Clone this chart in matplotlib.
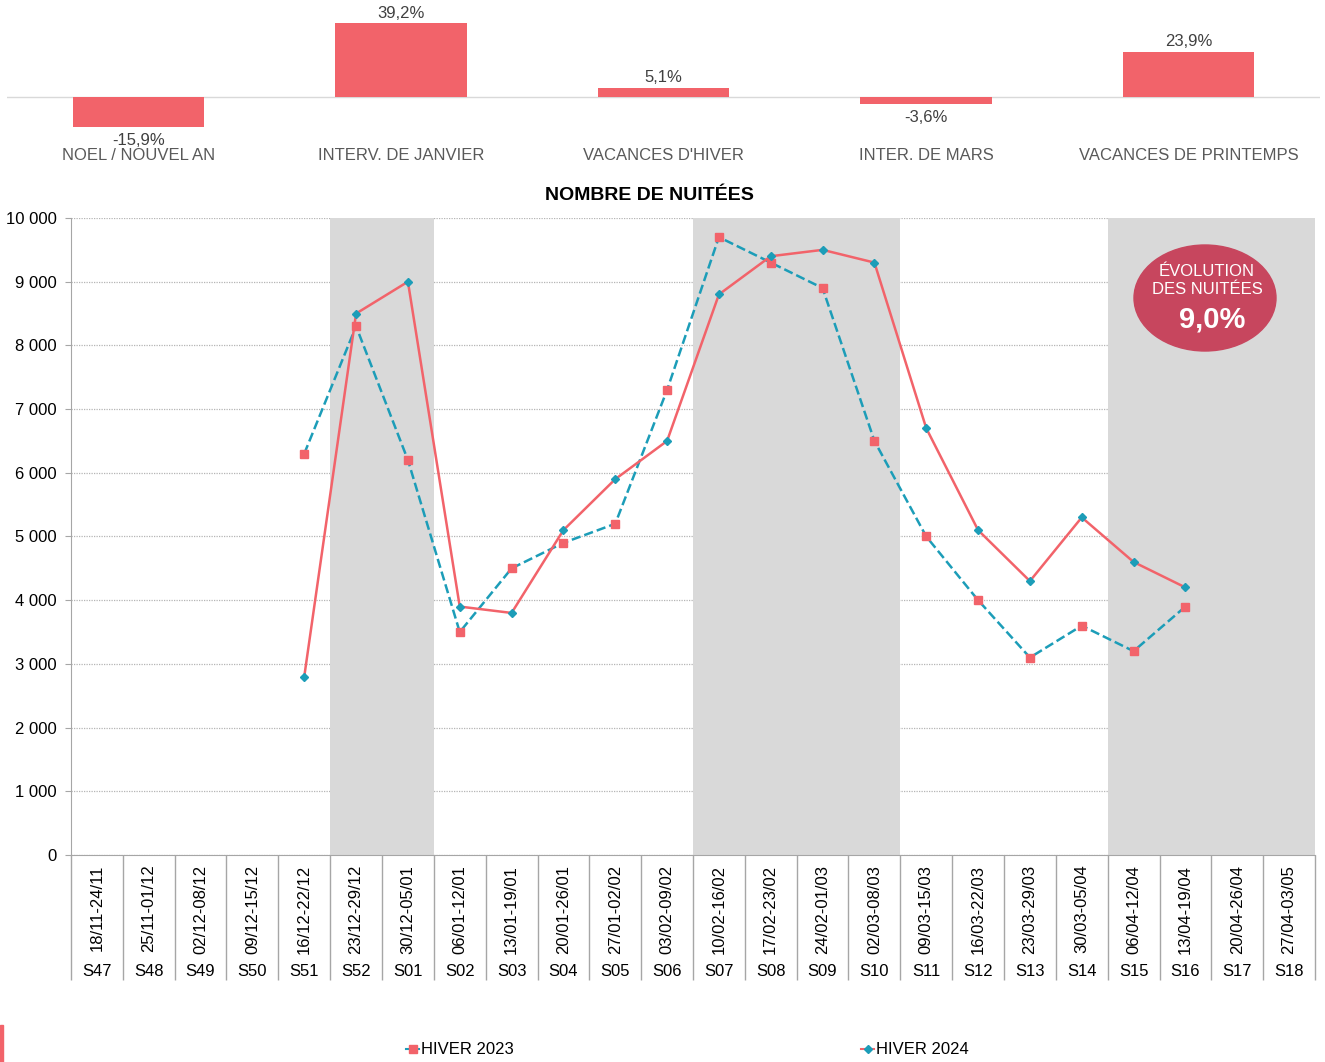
## IMPORTS
import numpy as np
import matplotlib
matplotlib.use("Agg")
import matplotlib.pyplot as plt
from matplotlib.patches import Ellipse, Rectangle
from matplotlib.lines import Line2D
from matplotlib.ticker import FuncFormatter

plt.rcParams['font.family'] = ['Liberation Sans', 'DejaVu Sans']

## Data
periodes = ["NOEL / NOUVEL AN", "INTERV. DE JANVIER", "VACANCES D'HIVER",
            "INTER. DE MARS", "VACANCES DE PRINTEMPS"]
evolutions = [-15.9, 39.2, 5.1, -3.6, 23.9]  # evolution in % per period

semaines = ["S47", "S48", "S49", "S50", "S51", "S52", "S01", "S02", "S03", "S04", "S05", "S06",
            "S07", "S08", "S09", "S10", "S11", "S12", "S13", "S14", "S15", "S16", "S17", "S18"]
dates = ["18/11-24/11", "25/11-01/12", "02/12-08/12", "09/12-15/12", "16/12-22/12", "23/12-29/12",
         "30/12-05/01", "06/01-12/01", "13/01-19/01", "20/01-26/01", "27/01-02/02", "03/02-09/02",
         "10/02-16/02", "17/02-23/02", "24/02-01/03", "02/03-08/03", "09/03-15/03", "16/03-22/03",
         "23/03-29/03", "30/03-05/04", "06/04-12/04", "13/04-19/04", "20/04-26/04", "27/04-03/05"]

nan = np.nan
hiver_2023 = [nan, nan, nan, nan, 6300, 8300, 6200, 3500, 4500, 4900, 5200, 7300,
              9700, 9300, 8900, 6500, 5000, 4000, 3100, 3600, 3200, 3900, nan, nan]
hiver_2024 = [nan, nan, nan, nan, 2800, 8500, 9000, 3900, 3800, 5100, 5900, 6500,
              8800, 9400, 9500, 9300, 6700, 5100, 4300, 5300, 4600, 4200, nan, nan]

vacances = [("S52", "S01"), ("S07", "S10"), ("S15", "S18")]  # shaded weeks
evolution_totale = "9,0%"

## Colors
rouge = "#F2636A"
teal = "#1C9DB8"
gris = "#D9D9D9"

W, H = 1325, 1062
fig = plt.figure(figsize=(W / 100, H / 100), dpi=100)

## Top bar chart (evolution per period)
axt = fig.add_axes([7 / W, 1 - 135 / H, 1313 / W, 132 / H])
axt.bar(range(len(periodes)), evolutions, width=0.5, color=rouge, zorder=2)
axt.axhline(0, color=gris, lw=1, zorder=1)
axt.set_xlim(-0.5, len(periodes) - 0.5)
axt.set_ylim(-20, 50)
for s in axt.spines.values():
    s.set_visible(False)
axt.set_yticks([])
axt.set_xticks(range(len(periodes)))
axt.set_xticklabels(periodes, fontsize=12, color="#595959")
axt.tick_params(axis='x', length=0, pad=9)
for i, v in enumerate(evolutions):
    txt = f"{v:.1f}%".replace(".", ",")
    if v >= 0:
        axt.annotate(txt, (i, v), xytext=(0, 2), textcoords="offset points",
                     ha="center", va="bottom", fontsize=12, color="#404040")
    else:
        axt.annotate(txt, (i, v), xytext=(0, -4), textcoords="offset points",
                     ha="center", va="top", fontsize=12, color="#404040")

## Main line chart
ax = fig.add_axes([71 / W, 1 - 855 / H, 1244 / W, 637 / H])
x = np.arange(len(semaines))
ax.set_xlim(-0.5, len(semaines) - 0.5)
ax.set_ylim(0, 10000)

for debut, fin in vacances:
    ax.axvspan(semaines.index(debut) - 0.5, semaines.index(fin) + 0.5, color=gris, lw=0, zorder=1)

ax.set_axisbelow(True)
ax.yaxis.grid(True, linestyle=(0, (1, 1)), color="#b5b5b5", lw=0.9)

ax.plot(x, hiver_2023, color=teal, ls="--", lw=1.8, marker="s", ms=6,
        mfc=rouge, mec=rouge, zorder=3, label="HIVER 2023")
ax.plot(x, hiver_2024, color=rouge, ls="-", lw=1.8, marker="D", ms=4,
        mfc=teal, mec=teal, zorder=4, label="HIVER 2024")

ax.set_yticks(np.arange(0, 10001, 1000))
ax.yaxis.set_major_formatter(FuncFormatter(lambda v, p: f"{int(v):,}".replace(",", " ")))
ax.tick_params(axis='y', labelsize=12, length=4, color="#a6a6a6", pad=6)

for side in ["top", "right"]:
    ax.spines[side].set_visible(False)
ax.spines["left"].set_color("#a6a6a6")
ax.spines["bottom"].set_color("#a6a6a6")

ax.set_xticks(x)
ax.set_xticklabels(dates, rotation=90, fontsize=12)
ax.tick_params(axis='x', which='major', length=0, pad=7)
ax.set_xticks(np.arange(-0.5, len(semaines), 1), minor=True)
ax.tick_params(axis='x', which='minor', length=90, color="#a6a6a6", width=1)

for i, s in enumerate(semaines):
    ax.text(i, -0.183, s, transform=ax.get_xaxis_transform(), ha="center", va="center", fontsize=12)

fig.text(649 / W, 1 - 195 / H, "NOMBRE DE NUITÉES", ha="center", va="center",
         fontsize=14, fontweight="bold")

## Bubble with total evolution
fig.add_artist(Ellipse((1205 / W, 1 - 298 / H), 142 / W, 106 / H,
                       transform=fig.transFigure, color="#C7465E", zorder=5))
fig.text(1207 / W, 1 - 271 / H, "ÉVOLUTION", ha="center", va="center", color="white", fontsize=12, zorder=6)
fig.text(1207 / W, 1 - 290 / H, "DES NUITÉES", ha="center", va="center", color="white", fontsize=12, zorder=6)
fig.text(1212 / W, 1 - 320 / H, evolution_totale, ha="center", va="center", color="white",
         fontsize=21, fontweight="bold", zorder=6)

## Legend (markers/colors as shown in the original)
h23 = Line2D([], [], color=teal, lw=1.5, marker="s", ms=6, mfc=rouge, mec=rouge)
h24 = Line2D([], [], color=rouge, lw=1.5, marker="D", ms=4, mfc=teal, mec=teal)
fig.legend([h23], ["HIVER 2023"], loc="center left", bbox_to_anchor=(406 / W, 1 - 1050 / H),
           frameon=False, fontsize=12, handlelength=0.8, handletextpad=0.1, borderpad=0, borderaxespad=0)
fig.legend([h24], ["HIVER 2024"], loc="center left", bbox_to_anchor=(861 / W, 1 - 1050 / H),
           frameon=False, fontsize=12, handlelength=0.8, handletextpad=0.1, borderpad=0, borderaxespad=0)

fig.add_artist(Rectangle((0, 0), 3 / W, 37 / H, transform=fig.transFigure, color=rouge))

fig.savefig("out.png", dpi=100)
